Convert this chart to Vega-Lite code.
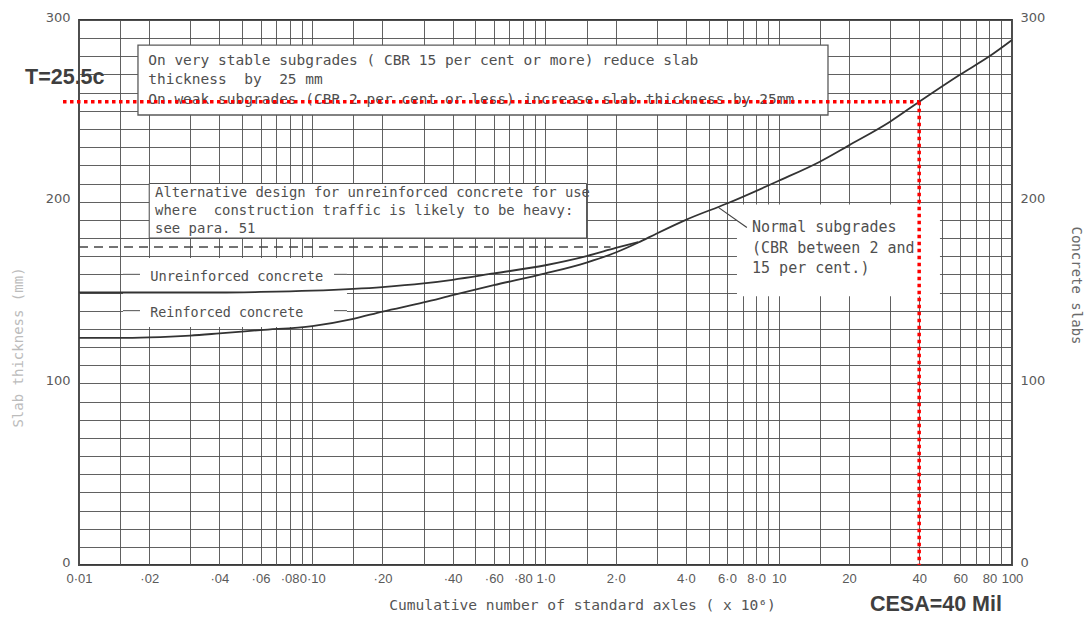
{
  "$schema": "https://vega.github.io/schema/vega-lite/v6.json",
  "width": 933,
  "height": 545,
  "autosize": {"type": "none"},
  "padding": {"left": 79, "top": 20, "right": 73, "bottom": 52},
  "background": "white",
  "config": {
    "view": {"stroke": "#3a3a3a", "strokeWidth": 1.8},
    "axis": {
      "labelFont": "DejaVu Sans",
      "labelColor": "#5a5a5a",
      "labelFontSize": 13,
      "ticks": false,
      "domain": false,
      "gridColor": "#505050",
      "gridWidth": 1,
      "gridOpacity": 0.9,
      "titleFont": "DejaVu Sans Mono",
      "titleFontWeight": "normal"
    },
    "text": {"font": "DejaVu Sans Mono", "fontSize": 14.5, "color": "#4f4f4f"}
  },
  "data": {"values": [{}]},
  "datasets": {
    "reinforced": [
      {"axles": 0.01, "thickness": 125},
      {"axles": 0.015, "thickness": 125},
      {"axles": 0.02, "thickness": 125.3},
      {"axles": 0.03, "thickness": 126.3},
      {"axles": 0.04, "thickness": 127.5},
      {"axles": 0.06, "thickness": 129.3},
      {"axles": 0.1, "thickness": 131.5},
      {"axles": 0.15, "thickness": 135.5},
      {"axles": 0.2, "thickness": 139.5},
      {"axles": 0.3, "thickness": 144.5},
      {"axles": 0.4, "thickness": 148.5},
      {"axles": 0.6, "thickness": 154},
      {"axles": 1, "thickness": 160.5},
      {"axles": 1.5, "thickness": 166.5},
      {"axles": 2, "thickness": 172},
      {"axles": 2.5, "thickness": 177.5},
      {"axles": 3, "thickness": 182.5},
      {"axles": 4, "thickness": 190},
      {"axles": 6, "thickness": 199},
      {"axles": 10, "thickness": 211.5},
      {"axles": 15, "thickness": 222},
      {"axles": 20, "thickness": 231},
      {"axles": 30, "thickness": 244},
      {"axles": 40, "thickness": 255},
      {"axles": 60, "thickness": 270},
      {"axles": 80, "thickness": 280},
      {"axles": 100, "thickness": 289}
    ],
    "unreinforced": [
      {"axles": 0.01, "thickness": 150},
      {"axles": 0.02, "thickness": 150},
      {"axles": 0.04, "thickness": 150},
      {"axles": 0.06, "thickness": 150.3},
      {"axles": 0.1, "thickness": 151},
      {"axles": 0.15, "thickness": 152},
      {"axles": 0.2, "thickness": 153},
      {"axles": 0.3, "thickness": 155},
      {"axles": 0.4, "thickness": 157},
      {"axles": 0.6, "thickness": 160.5},
      {"axles": 1, "thickness": 165},
      {"axles": 1.5, "thickness": 170},
      {"axles": 2, "thickness": 174.5},
      {"axles": 2.5, "thickness": 177.8}
    ],
    "leaderLines": [
      {"thickness": 160},
      {"thickness": 140}
    ]
  },
  "layer": [
    {
      "data": {"name": "unreinforced"},
      "mark": {"type": "line", "opacity": 0},
      "encoding": {
        "x": {
          "field": "axles",
          "type": "quantitative",
          "scale": {"type": "log", "domain": [0.01, 100]},
          "axis": {
            "orient": "bottom",
            "grid": true,
            "values": [0.01, 0.015, 0.02, 0.03, 0.04, 0.05, 0.06, 0.07, 0.08, 0.09, 0.1, 0.15, 0.2, 0.3, 0.4, 0.5, 0.6, 0.7, 0.8, 0.9, 1, 1.5, 2, 3, 4, 5, 6, 7, 8, 9, 10, 15, 20, 30, 40, 50, 60, 70, 80, 90, 100],
            "labelExpr": "datum.value === 0.01 ? '0·01' : datum.value === 0.02 ? '·02' : datum.value === 0.04 ? '·04' : datum.value === 0.06 ? '·06' : datum.value === 0.08 ? '·08' : datum.value === 0.1 ? '0·10' : datum.value === 0.2 ? '·20' : datum.value === 0.4 ? '·40' : datum.value === 0.6 ? '·60' : datum.value === 0.8 ? '·80' : datum.value === 1 ? '1·0' : datum.value === 2 ? '2·0' : datum.value === 4 ? '4·0' : datum.value === 6 ? '6·0' : datum.value === 8 ? '8·0' : datum.value === 10 ? '10' : datum.value === 20 ? '20' : datum.value === 40 ? '40' : datum.value === 60 ? '60' : datum.value === 80 ? '80' : datum.value === 100 ? '100' : ''",
            "labelFont": "Liberation Sans",
            "labelFontSize": 13,
            "labelOverlap": false,
            "labelFlush": false,
            "labelBound": false,
            "labelPadding": 7,
            "title": "Cumulative number of standard axles ( x 10⁶)",
            "titleX": 503,
            "titleY": 40,
            "titleAlign": "center",
            "titleBaseline": "middle",
            "titleFontSize": 14.6,
            "titleColor": "#555555"
          }
        },
        "y": {
          "field": "thickness",
          "type": "quantitative",
          "scale": {"domain": [0, 300], "nice": false},
          "axis": {
            "grid": true,
            "values": [0, 10, 20, 30, 40, 50, 60, 70, 80, 90, 100, 110, 120, 130, 140, 150, 160, 170, 180, 190, 200, 210, 220, 230, 240, 250, 260, 270, 280, 290, 300],
            "labelExpr": "datum.value % 100 === 0 ? datum.label : ''",
            "labelPadding": 9,
            "labelOffset": -3,
            "title": "Slab thickness (mm)",
            "titleX": -61,
            "titleY": 327,
            "titleAngle": -90,
            "titleAlign": "center",
            "titleBaseline": "middle",
            "titleFontSize": 14,
            "titleColor": "#bcbcbc"
          }
        }
      }
    },
    {
      "mark": {"type": "rect", "fill": "white"},
      "encoding": {
        "x": {"datum": 0.01544, "type": "quantitative", "scale": {"type": "log", "domain": [0.01, 100]}, "axis": null},
        "x2": {"datum": 0.1409},
        "y": {"datum": 131, "type": "quantitative", "scale": {"domain": [0, 300], "nice": false}, "axis": null},
        "y2": {"datum": 169}
      }
    },
    {
      "data": {"name": "leaderLines"},
      "mark": {"type": "rule", "color": "#505050", "strokeWidth": 1},
      "encoding": {
        "x": {"datum": 0.01544, "type": "quantitative", "scale": {"type": "log", "domain": [0.01, 100]}, "axis": null},
        "x2": {"datum": 0.1409},
        "y": {"field": "thickness", "type": "quantitative", "scale": {"domain": [0, 300], "nice": false}, "axis": null}
      }
    },
    {
      "mark": {"type": "rect", "fill": "white"},
      "encoding": {
        "x": {"datum": 0.01826, "type": "quantitative", "scale": {"type": "log", "domain": [0.01, 100]}, "axis": null},
        "x2": {"datum": 0.124},
        "y": {"datum": 155, "type": "quantitative", "scale": {"domain": [0, 300], "nice": false}, "axis": null},
        "y2": {"datum": 165}
      }
    },
    {
      "mark": {"type": "rect", "fill": "white"},
      "encoding": {
        "x": {"datum": 0.01826, "type": "quantitative", "scale": {"type": "log", "domain": [0.01, 100]}, "axis": null},
        "x2": {"datum": 0.124},
        "y": {"datum": 135, "type": "quantitative", "scale": {"domain": [0, 300], "nice": false}, "axis": null},
        "y2": {"datum": 145}
      }
    },
    {
      "mark": {"type": "rect", "fill": "white", "stroke": "#5a5a5a", "strokeWidth": 1.3},
      "encoding": {
        "x": {"datum": 0.0179, "type": "quantitative", "scale": {"type": "log", "domain": [0.01, 100]}, "axis": null},
        "x2": {"datum": 16.26},
        "y": {"datum": 247.7, "type": "quantitative", "scale": {"domain": [0, 300], "nice": false}, "axis": null},
        "y2": {"datum": 286.2}
      }
    },
    {
      "mark": {"type": "rect", "fill": "white", "stroke": "#505050", "strokeWidth": 1},
      "encoding": {
        "x": {"datum": 0.02, "type": "quantitative", "scale": {"type": "log", "domain": [0.01, 100]}, "axis": null},
        "x2": {"datum": 1.5},
        "y": {"datum": 180, "type": "quantitative", "scale": {"domain": [0, 300], "nice": false}, "axis": null},
        "y2": {"datum": 210}
      }
    },
    {
      "mark": {"type": "rect", "fill": "white"},
      "encoding": {
        "x": {"datum": 6.62, "type": "quantitative", "scale": {"type": "log", "domain": [0.01, 100]}, "axis": null},
        "x2": {"datum": 49.1},
        "y": {"datum": 148, "type": "quantitative", "scale": {"domain": [0, 300], "nice": false}, "axis": null},
        "y2": {"datum": 198.5}
      }
    },
    {
      "mark": {"type": "rule", "color": "#454545", "strokeWidth": 1.5, "strokeDash": [9, 6]},
      "encoding": {
        "x": {"datum": 0.01, "type": "quantitative", "scale": {"type": "log", "domain": [0.01, 100]}, "axis": null},
        "x2": {"datum": 1.9},
        "y": {"datum": 175, "type": "quantitative", "scale": {"domain": [0, 300], "nice": false}, "axis": null}
      }
    },
    {
      "data": {"name": "unreinforced"},
      "mark": {"type": "line", "color": "#333333", "strokeWidth": 1.8, "interpolate": "monotone"},
      "encoding": {
        "x": {"field": "axles", "type": "quantitative", "scale": {"type": "log", "domain": [0.01, 100]}, "axis": null},
        "y": {"field": "thickness", "type": "quantitative", "scale": {"domain": [0, 300], "nice": false}, "axis": null}
      }
    },
    {
      "data": {"name": "reinforced"},
      "mark": {"type": "line", "color": "#333333", "strokeWidth": 1.8, "interpolate": "monotone"},
      "encoding": {
        "x": {"field": "axles", "type": "quantitative", "scale": {"type": "log", "domain": [0.01, 100]}, "axis": null},
        "y": {
          "field": "thickness",
          "type": "quantitative",
          "scale": {"domain": [0, 300], "nice": false},
          "axis": {
            "orient": "right",
            "values": [0, 100, 200, 300],
            "grid": false,
            "labelPadding": 8,
            "labelOffset": -3,
            "title": "Concrete slabs",
            "titleX": 63,
            "titleY": 265,
            "titleAngle": 90,
            "titleAlign": "center",
            "titleBaseline": "middle",
            "titleFontSize": 14,
            "titleColor": "#6a6a6a"
          }
        }
      }
    },
    {
      "mark": {"type": "rule", "color": "#444444", "strokeWidth": 1.2},
      "encoding": {
        "x": {"datum": 5.49, "type": "quantitative", "scale": {"type": "log", "domain": [0.01, 100]}, "axis": null},
        "x2": {"datum": 7.3},
        "y": {"datum": 197, "type": "quantitative", "scale": {"domain": [0, 300], "nice": false}, "axis": null},
        "y2": {"datum": 185.8}
      }
    },
    {
      "mark": {"type": "text", "align": "left", "baseline": "top", "lineHeight": 19.5, "fontSize": 14.5},
      "encoding": {
        "x": {"datum": 0.0198, "type": "quantitative", "scale": {"type": "log", "domain": [0.01, 100]}, "axis": null},
        "y": {"datum": 281.3, "type": "quantitative", "scale": {"domain": [0, 300], "nice": false}, "axis": null},
        "text": {"value": ["On very stable subgrades ( CBR 15 per cent or more) reduce slab", "thickness\u00a0 by\u00a0 25 mm", "On weak subgrades (CBR 2 per cent or less) increase slab thickness by 25mm"]}
      }
    },
    {
      "mark": {"type": "text", "align": "left", "baseline": "top", "lineHeight": 18, "fontSize": 13.9},
      "encoding": {
        "x": {"datum": 0.0212, "type": "quantitative", "scale": {"type": "log", "domain": [0.01, 100]}, "axis": null},
        "y": {"datum": 208.6, "type": "quantitative", "scale": {"domain": [0, 300], "nice": false}, "axis": null},
        "text": {"value": ["Alternative design for unreinforced concrete for use", "where\u00a0 construction traffic is likely to be heavy:", "see para. 51"]}
      }
    },
    {
      "mark": {"type": "text", "align": "left", "baseline": "middle", "fontSize": 13.7},
      "encoding": {
        "x": {"datum": 0.0202, "type": "quantitative", "scale": {"type": "log", "domain": [0.01, 100]}, "axis": null},
        "y": {"datum": 158.5, "type": "quantitative", "scale": {"domain": [0, 300], "nice": false}, "axis": null},
        "text": {"value": "Unreinforced concrete"}
      }
    },
    {
      "mark": {"type": "text", "align": "left", "baseline": "middle", "fontSize": 13.4},
      "encoding": {
        "x": {"datum": 0.0202, "type": "quantitative", "scale": {"type": "log", "domain": [0.01, 100]}, "axis": null},
        "y": {"datum": 138.5, "type": "quantitative", "scale": {"domain": [0, 300], "nice": false}, "axis": null},
        "text": {"value": "Reinforced concrete"}
      }
    },
    {
      "mark": {"type": "text", "align": "left", "baseline": "top", "lineHeight": 20.5, "fontSize": 15},
      "encoding": {
        "x": {"datum": 7.68, "type": "quantitative", "scale": {"type": "log", "domain": [0.01, 100]}, "axis": null},
        "y": {"datum": 189.9, "type": "quantitative", "scale": {"domain": [0, 300], "nice": false}, "axis": null},
        "text": {"value": ["Normal subgrades", "(CBR between 2 and", "\u00a015 per cent.)"]}
      }
    },
    {
      "mark": {"type": "rule", "color": "#ff0000", "strokeWidth": 3.5, "strokeDash": [3.5, 3.5]},
      "encoding": {
        "x": {"datum": 0.00854, "type": "quantitative", "scale": {"type": "log", "domain": [0.01, 100]}, "axis": null},
        "x2": {"datum": 40},
        "y": {"datum": 255, "type": "quantitative", "scale": {"domain": [0, 300], "nice": false}, "axis": null}
      }
    },
    {
      "mark": {"type": "rule", "color": "#ff0000", "strokeWidth": 3.5, "strokeDash": [3.5, 3.5]},
      "encoding": {
        "x": {"datum": 40, "type": "quantitative", "scale": {"type": "log", "domain": [0.01, 100]}, "axis": null},
        "y": {"datum": 255, "type": "quantitative", "scale": {"domain": [0, 300], "nice": false}, "axis": null},
        "y2": {"datum": 0}
      }
    },
    {
      "mark": {"type": "text", "align": "left", "baseline": "middle", "font": "Liberation Sans", "fontWeight": "bold", "fontSize": 21.5, "color": "#3f3f3f"},
      "encoding": {
        "x": {"datum": 0.00587, "type": "quantitative", "scale": {"type": "log", "domain": [0.01, 100]}, "axis": null},
        "y": {"datum": 268, "type": "quantitative", "scale": {"domain": [0, 300], "nice": false}, "axis": null},
        "text": {"value": "T=25.5c"}
      }
    },
    {
      "mark": {"type": "text", "align": "center", "baseline": "middle", "font": "Liberation Sans", "fontWeight": "bold", "fontSize": 21.5, "color": "#3f3f3f"},
      "encoding": {
        "x": {"datum": 47.2, "type": "quantitative", "scale": {"type": "log", "domain": [0.01, 100]}, "axis": null},
        "y": {"datum": -22, "type": "quantitative", "scale": {"domain": [0, 300], "nice": false}, "axis": null},
        "text": {"value": "CESA=40 Mil"}
      }
    }
  ],
  "resolve": {"axis": {"x": "independent", "y": "independent"}}
}
